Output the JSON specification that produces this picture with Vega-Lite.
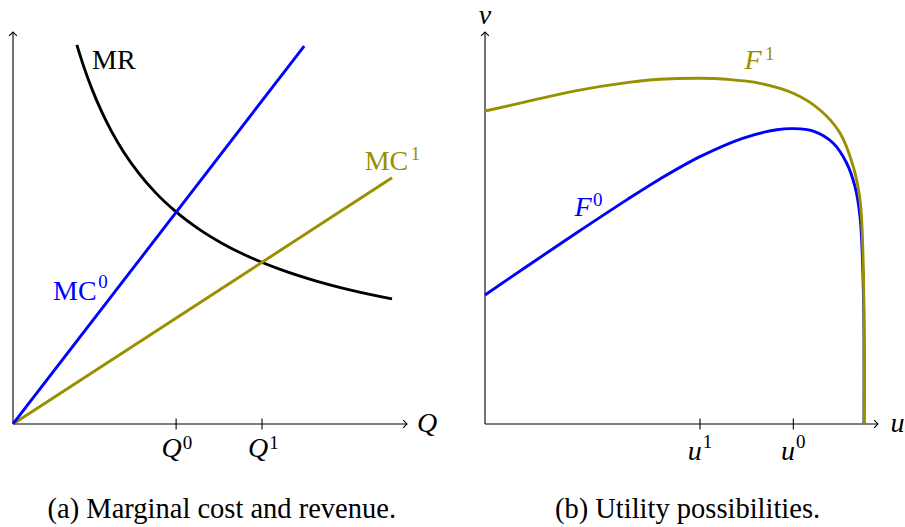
{
  "$schema": "https://vega.github.io/schema/vega-lite/v6.json",
  "padding": 0,
  "spacing": 0,
  "bounds": "flush",
  "background": "white",
  "config": {"view": {"stroke": null}, "font": "Liberation Serif, DejaVu Serif, serif", "text": {"font": "Liberation Serif, DejaVu Serif, serif"}},
  "resolve": {"scale": {"color": "shared"}},
  "datasets": {
    "axes": [{"x": 0, "y": 0, "x2": 10, "y2": 0}, {"x": 0, "y": 0, "x2": 0, "y2": 10}],
    "arrows": [{"x": 10, "y": 0, "dir": "right"}, {"x": 0, "y": 10, "dir": "up"}],
    "ticksL": [{"x": 4.14}, {"x": 6.32}],
    "ticksR": [{"x": 5.471}, {"x": 7.845}],
    "mc0": [{"x": 0, "y": 0}, {"x": 7.39, "y": 9.64}],
    "mc1": [{"x": 0, "y": 0}, {"x": 9.62, "y": 6.28}],
    "mr": [
      {"x": 1.62, "y": 9.672}, {"x": 1.8, "y": 9.104}, {"x": 2.0, "y": 8.555}, {"x": 2.25, "y": 7.967},
      {"x": 2.5, "y": 7.466}, {"x": 2.8, "y": 6.953}, {"x": 3.2, "y": 6.387}, {"x": 3.6, "y": 5.921},
      {"x": 4.14, "y": 5.41}, {"x": 4.7, "y": 4.984}, {"x": 5.3, "y": 4.613}, {"x": 6.0, "y": 4.261},
      {"x": 6.8, "y": 3.938}, {"x": 7.7, "y": 3.646}, {"x": 8.6, "y": 3.409}, {"x": 9.62, "y": 3.19}
    ],
    "f1": [
      {"x": 0, "y": 7.985}, {"x": 1.061, "y": 8.222}, {"x": 2.333, "y": 8.503}, {"x": 3.606, "y": 8.707},
      {"x": 4.453, "y": 8.793}, {"x": 5.471, "y": 8.819}, {"x": 6.150, "y": 8.793}, {"x": 6.997, "y": 8.691},
      {"x": 7.845, "y": 8.436}, {"x": 8.524, "y": 8.010}, {"x": 9.033, "y": 7.423}, {"x": 9.371, "y": 6.564},
      {"x": 9.542, "y": 5.714}, {"x": 9.626, "y": 4.013}, {"x": 9.644, "y": 2.321}, {"x": 9.644, "y": 0}
    ],
    "f0": [
      {"x": 0, "y": 3.291}, {"x": 1.061, "y": 4.018}, {"x": 2.333, "y": 4.877}, {"x": 3.606, "y": 5.717},
      {"x": 4.453, "y": 6.251}, {"x": 5.471, "y": 6.821}, {"x": 6.573, "y": 7.295}, {"x": 7.422, "y": 7.507},
      {"x": 7.845, "y": 7.535}, {"x": 8.354, "y": 7.47}, {"x": 8.863, "y": 7.161}, {"x": 9.204, "y": 6.651},
      {"x": 9.415, "y": 6.054}, {"x": 9.542, "y": 5.288}, {"x": 9.611, "y": 4.013}, {"x": 9.644, "y": 2.321},
      {"x": 9.644, "y": 0}
    ],
    "mathL": [{"t": "Q", "x": 10.51, "y": -0.2}],
    "baseL": [{"t": "Q", "x": 4.282, "y": -0.842, "s": "axis"}, {"t": "Q", "x": 6.48, "y": -0.842, "s": "axis"}],
    "romanL": [{"t": "MC", "x": 2.124, "y": 3.163, "s": "MC0"}, {"t": "MC", "x": 10.033, "y": 6.48, "s": "MC1"}],
    "supL": [
      {"t": "0", "x": 4.307, "y": -0.638, "s": "axis"}, {"t": "1", "x": 6.505, "y": -0.638, "s": "axis"},
      {"t": "0", "x": 2.165, "y": 3.459, "s": "MC0"}, {"t": "1", "x": 10.094, "y": 6.735, "s": "MC1"}
    ],
    "labMR": [{"t": "MR", "x": 2.005, "y": 9.056}],
    "capA": [{"t": "(a) Marginal cost and revenue.", "x": 5.30, "y": -2.398}],
    "mathR": [{"t": "v", "x": 0, "y": 10.2}, {"t": "u", "x": 10.496, "y": -0.204}],
    "baseR": [
      {"t": "u", "x": 5.514, "y": -0.918, "s": "axis"}, {"t": "u", "x": 7.888, "y": -0.918, "s": "axis"},
      {"t": "F", "x": 7.041, "y": 9.048, "s": "F1"}, {"t": "F", "x": 2.715, "y": 5.306, "s": "F0"}
    ],
    "supR": [
      {"t": "1", "x": 5.54, "y": -0.622, "s": "axis"}, {"t": "0", "x": 7.913, "y": -0.622, "s": "axis"},
      {"t": "1", "x": 7.125, "y": 9.286, "s": "F1"}, {"t": "0", "x": 2.748, "y": 5.561, "s": "F0"}
    ],
    "capB": [{"t": "(b) Utility possibilities.", "x": 5.153, "y": -2.398}]
  },
  "hconcat": [
    {
      "width": 452,
      "height": 527,
      "layer": [
        {
          "data": {"name": "axes"},
          "mark": {"type": "rule", "color": "black", "strokeWidth": 1.1},
          "encoding": {
            "x": {"field": "x", "type": "quantitative", "scale": {"domain": [-0.33, 11.142], "nice": false, "zero": false}, "axis": null},
            "y": {"field": "y", "type": "quantitative", "scale": {"domain": [-2.628, 10.816], "nice": false, "zero": false}, "axis": null},
            "x2": {"field": "x2"},
            "y2": {"field": "y2"}
          }
        },
        {
          "data": {"name": "arrows"},
          "mark": {"type": "point", "filled": false, "color": "black", "strokeWidth": 1.1, "size": 60, "opacity": 1},
          "encoding": {
            "x": {"field": "x", "type": "quantitative", "scale": {"domain": [-0.33, 11.142], "nice": false, "zero": false}, "axis": null},
            "y": {"field": "y", "type": "quantitative", "scale": {"domain": [-2.628, 10.816], "nice": false, "zero": false}, "axis": null},
            "shape": {"field": "dir", "type": "nominal", "scale": {"domain": ["right", "up"], "range": ["M-1,-1L0,0L-1,1", "M-1,1L0,0L1,1"]}, "legend": null}
          }
        },
        {
          "data": {"name": "ticksL"},
          "mark": {"type": "rule", "color": "black", "strokeWidth": 1.1},
          "encoding": {
            "x": {"field": "x", "type": "quantitative", "scale": {"domain": [-0.33, 11.142], "nice": false, "zero": false}, "axis": null},
            "y": {"datum": -0.14, "type": "quantitative", "scale": {"domain": [-2.628, 10.816], "nice": false, "zero": false}, "axis": null},
            "y2": {"datum": 0.14}
          }
        },
        {
          "data": {"name": "mr"},
          "mark": {"type": "line", "color": "black", "strokeWidth": 2.9, "interpolate": "monotone"},
          "encoding": {
            "x": {"field": "x", "type": "quantitative", "scale": {"domain": [-0.33, 11.142], "nice": false, "zero": false}, "axis": null},
            "y": {"field": "y", "type": "quantitative", "scale": {"domain": [-2.628, 10.816], "nice": false, "zero": false}, "axis": null}
          }
        },
        {
          "data": {"name": "mc1"},
          "mark": {"type": "line", "color": "#999000", "strokeWidth": 2.9},
          "encoding": {
            "x": {"field": "x", "type": "quantitative", "scale": {"domain": [-0.33, 11.142], "nice": false, "zero": false}, "axis": null},
            "y": {"field": "y", "type": "quantitative", "scale": {"domain": [-2.628, 10.816], "nice": false, "zero": false}, "axis": null}
          }
        },
        {
          "data": {"name": "mc0"},
          "mark": {"type": "line", "color": "#0000ff", "strokeWidth": 2.9},
          "encoding": {
            "x": {"field": "x", "type": "quantitative", "scale": {"domain": [-0.33, 11.142], "nice": false, "zero": false}, "axis": null},
            "y": {"field": "y", "type": "quantitative", "scale": {"domain": [-2.628, 10.816], "nice": false, "zero": false}, "axis": null}
          }
        },
        {
          "data": {"name": "mathL"},
          "mark": {"type": "text", "font": "Liberation Serif, DejaVu Serif, serif", "fontStyle": "italic", "fontSize": 28, "align": "center", "baseline": "alphabetic", "color": "black"},
          "encoding": {
            "x": {"field": "x", "type": "quantitative", "scale": {"domain": [-0.33, 11.142], "nice": false, "zero": false}, "axis": null},
            "y": {"field": "y", "type": "quantitative", "scale": {"domain": [-2.628, 10.816], "nice": false, "zero": false}, "axis": null},
            "text": {"field": "t"}
          }
        },
        {
          "data": {"name": "baseL"},
          "mark": {"type": "text", "font": "Liberation Serif, DejaVu Serif, serif", "fontStyle": "italic", "fontSize": 28, "align": "right", "baseline": "alphabetic"},
          "encoding": {
            "x": {"field": "x", "type": "quantitative", "scale": {"domain": [-0.33, 11.142], "nice": false, "zero": false}, "axis": null},
            "y": {"field": "y", "type": "quantitative", "scale": {"domain": [-2.628, 10.816], "nice": false, "zero": false}, "axis": null},
            "color": {"field": "s", "type": "nominal", "scale": {"domain": ["axis", "MC0", "MC1", "MR", "F0", "F1"], "range": ["black", "#0000ff", "#999000", "black", "#0000ff", "#999000"]}, "legend": null},
            "text": {"field": "t"}
          }
        },
        {
          "data": {"name": "romanL"},
          "mark": {"type": "text", "font": "Liberation Serif, DejaVu Serif, serif", "fontSize": 28, "align": "right", "baseline": "alphabetic"},
          "encoding": {
            "x": {"field": "x", "type": "quantitative", "scale": {"domain": [-0.33, 11.142], "nice": false, "zero": false}, "axis": null},
            "y": {"field": "y", "type": "quantitative", "scale": {"domain": [-2.628, 10.816], "nice": false, "zero": false}, "axis": null},
            "color": {"field": "s", "type": "nominal", "scale": {"domain": ["axis", "MC0", "MC1", "MR", "F0", "F1"], "range": ["black", "#0000ff", "#999000", "black", "#0000ff", "#999000"]}, "legend": null},
            "text": {"field": "t"}
          }
        },
        {
          "data": {"name": "supL"},
          "mark": {"type": "text", "font": "Liberation Serif, DejaVu Serif, serif", "fontSize": 19, "align": "left", "baseline": "alphabetic"},
          "encoding": {
            "x": {"field": "x", "type": "quantitative", "scale": {"domain": [-0.33, 11.142], "nice": false, "zero": false}, "axis": null},
            "y": {"field": "y", "type": "quantitative", "scale": {"domain": [-2.628, 10.816], "nice": false, "zero": false}, "axis": null},
            "color": {"field": "s", "type": "nominal", "scale": {"domain": ["axis", "MC0", "MC1", "MR", "F0", "F1"], "range": ["black", "#0000ff", "#999000", "black", "#0000ff", "#999000"]}, "legend": null},
            "text": {"field": "t"}
          }
        },
        {
          "data": {"name": "labMR"},
          "mark": {"type": "text", "font": "Liberation Serif, DejaVu Serif, serif", "fontSize": 28, "align": "left", "baseline": "alphabetic", "color": "black"},
          "encoding": {
            "x": {"field": "x", "type": "quantitative", "scale": {"domain": [-0.33, 11.142], "nice": false, "zero": false}, "axis": null},
            "y": {"field": "y", "type": "quantitative", "scale": {"domain": [-2.628, 10.816], "nice": false, "zero": false}, "axis": null},
            "text": {"field": "t"}
          }
        },
        {
          "data": {"name": "capA"},
          "mark": {"type": "text", "font": "Liberation Serif, DejaVu Serif, serif", "fontSize": 28.5, "align": "center", "baseline": "alphabetic", "color": "black"},
          "encoding": {
            "x": {"field": "x", "type": "quantitative", "scale": {"domain": [-0.33, 11.142], "nice": false, "zero": false}, "axis": null},
            "y": {"field": "y", "type": "quantitative", "scale": {"domain": [-2.628, 10.816], "nice": false, "zero": false}, "axis": null},
            "text": {"field": "t"}
          }
        }
      ]
    },
    {
      "width": 453,
      "height": 527,
      "layer": [
        {
          "data": {"name": "axes"},
          "mark": {"type": "rule", "color": "black", "strokeWidth": 1.1},
          "encoding": {
            "x": {"field": "x", "type": "quantitative", "scale": {"domain": [-0.84, 10.687], "nice": false, "zero": false}, "axis": null},
            "y": {"field": "y", "type": "quantitative", "scale": {"domain": [-2.628, 10.816], "nice": false, "zero": false}, "axis": null},
            "x2": {"field": "x2"},
            "y2": {"field": "y2"}
          }
        },
        {
          "data": {"name": "arrows"},
          "mark": {"type": "point", "filled": false, "color": "black", "strokeWidth": 1.1, "size": 60, "opacity": 1},
          "encoding": {
            "x": {"field": "x", "type": "quantitative", "scale": {"domain": [-0.84, 10.687], "nice": false, "zero": false}, "axis": null},
            "y": {"field": "y", "type": "quantitative", "scale": {"domain": [-2.628, 10.816], "nice": false, "zero": false}, "axis": null},
            "shape": {"field": "dir", "type": "nominal", "scale": {"domain": ["right", "up"], "range": ["M-1,-1L0,0L-1,1", "M-1,1L0,0L1,1"]}, "legend": null}
          }
        },
        {
          "data": {"name": "ticksR"},
          "mark": {"type": "rule", "color": "black", "strokeWidth": 1.1},
          "encoding": {
            "x": {"field": "x", "type": "quantitative", "scale": {"domain": [-0.84, 10.687], "nice": false, "zero": false}, "axis": null},
            "y": {"datum": -0.14, "type": "quantitative", "scale": {"domain": [-2.628, 10.816], "nice": false, "zero": false}, "axis": null},
            "y2": {"datum": 0.14}
          }
        },
        {
          "data": {"name": "f0"},
          "mark": {"type": "line", "color": "#0000ff", "strokeWidth": 2.9, "interpolate": "catmull-rom"},
          "encoding": {
            "x": {"field": "x", "type": "quantitative", "scale": {"domain": [-0.84, 10.687], "nice": false, "zero": false}, "axis": null},
            "y": {"field": "y", "type": "quantitative", "scale": {"domain": [-2.628, 10.816], "nice": false, "zero": false}, "axis": null},
            "order": {"value": null}
          }
        },
        {
          "data": {"name": "f1"},
          "mark": {"type": "line", "color": "#999000", "strokeWidth": 2.9, "interpolate": "catmull-rom"},
          "encoding": {
            "x": {"field": "x", "type": "quantitative", "scale": {"domain": [-0.84, 10.687], "nice": false, "zero": false}, "axis": null},
            "y": {"field": "y", "type": "quantitative", "scale": {"domain": [-2.628, 10.816], "nice": false, "zero": false}, "axis": null},
            "order": {"value": null}
          }
        },
        {
          "data": {"name": "mathR"},
          "mark": {"type": "text", "font": "Liberation Serif, DejaVu Serif, serif", "fontStyle": "italic", "fontSize": 28, "align": "center", "baseline": "alphabetic", "color": "black"},
          "encoding": {
            "x": {"field": "x", "type": "quantitative", "scale": {"domain": [-0.84, 10.687], "nice": false, "zero": false}, "axis": null},
            "y": {"field": "y", "type": "quantitative", "scale": {"domain": [-2.628, 10.816], "nice": false, "zero": false}, "axis": null},
            "text": {"field": "t"}
          }
        },
        {
          "data": {"name": "baseR"},
          "mark": {"type": "text", "font": "Liberation Serif, DejaVu Serif, serif", "fontStyle": "italic", "fontSize": 28, "align": "right", "baseline": "alphabetic"},
          "encoding": {
            "x": {"field": "x", "type": "quantitative", "scale": {"domain": [-0.84, 10.687], "nice": false, "zero": false}, "axis": null},
            "y": {"field": "y", "type": "quantitative", "scale": {"domain": [-2.628, 10.816], "nice": false, "zero": false}, "axis": null},
            "color": {"field": "s", "type": "nominal", "scale": {"domain": ["axis", "MC0", "MC1", "MR", "F0", "F1"], "range": ["black", "#0000ff", "#999000", "black", "#0000ff", "#999000"]}, "legend": null},
            "text": {"field": "t"}
          }
        },
        {
          "data": {"name": "supR"},
          "mark": {"type": "text", "font": "Liberation Serif, DejaVu Serif, serif", "fontSize": 19, "align": "left", "baseline": "alphabetic"},
          "encoding": {
            "x": {"field": "x", "type": "quantitative", "scale": {"domain": [-0.84, 10.687], "nice": false, "zero": false}, "axis": null},
            "y": {"field": "y", "type": "quantitative", "scale": {"domain": [-2.628, 10.816], "nice": false, "zero": false}, "axis": null},
            "color": {"field": "s", "type": "nominal", "scale": {"domain": ["axis", "MC0", "MC1", "MR", "F0", "F1"], "range": ["black", "#0000ff", "#999000", "black", "#0000ff", "#999000"]}, "legend": null},
            "text": {"field": "t"}
          }
        },
        {
          "data": {"name": "capB"},
          "mark": {"type": "text", "font": "Liberation Serif, DejaVu Serif, serif", "fontSize": 28.5, "align": "center", "baseline": "alphabetic", "color": "black"},
          "encoding": {
            "x": {"field": "x", "type": "quantitative", "scale": {"domain": [-0.84, 10.687], "nice": false, "zero": false}, "axis": null},
            "y": {"field": "y", "type": "quantitative", "scale": {"domain": [-2.628, 10.816], "nice": false, "zero": false}, "axis": null},
            "text": {"field": "t"}
          }
        }
      ]
    }
  ]
}
